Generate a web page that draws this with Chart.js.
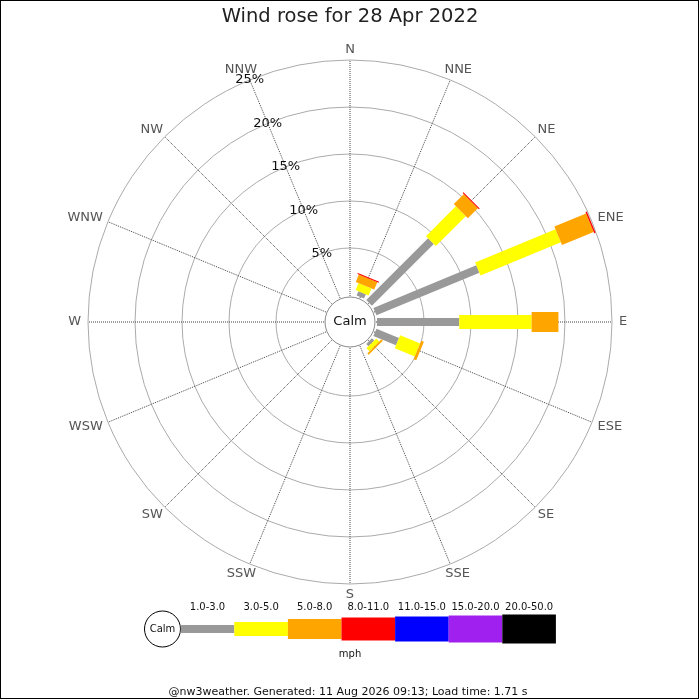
<!DOCTYPE html>
<html>
<head>
<meta charset="utf-8">
<title>Wind rose</title>
<script src="https://cdn.jsdelivr.net/npm/chart.js@4.4.1/dist/chart.umd.min.js"></script>
<style>
  html, body { margin: 0; padding: 0; background: #fff; }
  #wrap { width: 700px; height: 700px; position: relative; }
</style>
</head>
<body>
<div id="wrap"><canvas id="myChart"></canvas></div>
<script>
const directions = ["N", "NNE", "NE", "ENE", "E", "ESE", "SE", "SSE",
  "S", "SSW", "SW", "WSW", "W", "WNW", "NW", "NNW"];
const speedBins = ["1.0-3.0", "3.0-5.0", "5.0-8.0", "8.0-11.0", "11.0-15.0", "15.0-20.0", "20.0-50.0"];

// percent of the day per direction, one array per speed bin
const speed1to3 = [0, 0.5, 9.3, 11.85, 8.75, 2.6, 0.35, 0, 0, 0, 0, 0, 0, 0, 0, 0];
const speed3to5 = [0, 0.8, 4.5, 9.25, 7.7, 2.3, 0.45, 0, 0, 0, 0, 0, 0, 0, 0, 0];
const speed5to8 = [0, 0.85, 1.5, 3.65, 2.85, 0.3, 0.2, 0, 0, 0, 0, 0, 0, 0, 0, 0];
const speed8to11 = [0, 0.12, 0.12, 0.15, 0, 0, 0, 0, 0, 0, 0, 0, 0, 0, 0, 0];
const speed11to15 = [0, 0, 0, 0, 0, 0, 0, 0, 0, 0, 0, 0, 0, 0, 0, 0];
const speed15to20 = [0, 0, 0, 0, 0, 0, 0, 0, 0, 0, 0, 0, 0, 0, 0, 0];
const speed20to50 = [0, 0, 0, 0, 0, 0, 0, 0, 0, 0, 0, 0, 0, 0, 0, 0];

const ringTicks = [5, 10, 15, 20, 25];

const binColors = ["#999999", "#ffff00", "#ffa500", "#ff0000", "#0000ff", "#a020f0", "#000000"];
const binWidths = [8, 14, 20, 23, 25, 27, 29];
const FONT = "DejaVu Sans";

const series = [speed1to3, speed3to5, speed5to8, speed8to11, speed11to15, speed15to20, speed20to50];

const windRosePlugin = {
  id: "windRose",
  afterDatasetsDraw(chart) {
    const ctx = chart.ctx;
    const scale = chart.scales.r;
    ctx.save();

    // stacked bars, each bin a thick line segment along its direction
    ctx.lineCap = "butt";
    directions.forEach((dir, i) => {
      let start = 0;
      chart.data.datasets.forEach((ds, b) => {
        const v = ds.data[i];
        if (!v) return;
        const p0 = scale.getPointPositionForValue(i, start);
        const p1 = scale.getPointPositionForValue(i, start + v);
        ctx.strokeStyle = ds.barColor;
        ctx.lineWidth = ds.barWidth;
        ctx.beginPath();
        ctx.moveTo(p0.x, p0.y);
        ctx.lineTo(p1.x, p1.y);
        ctx.stroke();
        start += v;
      });
    });

    // calm circle
    const cr = scale.getDistanceFromCenterForValue(0) - 2;
    ctx.fillStyle = "#fff";
    ctx.strokeStyle = "#888";
    ctx.lineWidth = 1;
    ctx.beginPath();
    ctx.arc(scale.xCenter, scale.yCenter, cr, 0, Math.PI * 2);
    ctx.fill();
    ctx.stroke();
    ctx.fillStyle = "#111";
    ctx.font = "13px " + FONT;
    ctx.textAlign = "center";
    ctx.textBaseline = "middle";
    ctx.fillText("Calm", scale.xCenter, scale.yCenter);

    // ring labels along NNW
    ringTicks.forEach((v) => {
      const p = scale.getPointPositionForValue(15, v);
      ctx.fillText(v + "%", p.x, p.y);
    });

    // compass labels just outside the end of each spoke
    ctx.fillStyle = "#555";
    chart.data.labels.forEach((label, i) => {
      const a = scale.getIndexAngle(i);
      const w = ctx.measureText(label).width;
      const end = scale.getPointPosition(i, scale.drawingArea);
      ctx.fillText(label, end.x + Math.sin(a) * (7 + w / 2), end.y - Math.cos(a) * 10.75);
    });
    ctx.restore();
  },
  afterDraw(chart) {
    const ctx = chart.ctx;
    ctx.save();
    ctx.textAlign = "center";
    ctx.textBaseline = "middle";

    // speed legend
    const ly = 629;
    ctx.strokeStyle = "#000";
    ctx.lineWidth = 1;
    ctx.beginPath();
    ctx.arc(162.5, ly, 18, 0, Math.PI * 2);
    ctx.stroke();
    ctx.fillStyle = "#111";
    ctx.font = "10px " + FONT;
    ctx.fillText("Calm", 162.5, ly);

    const segW = 53.6;
    let x = 180.7;
    speedBins.forEach((label, b) => {
      const h = binWidths[b];
      ctx.fillStyle = binColors[b];
      ctx.fillRect(x, ly - h / 2, segW, h);
      ctx.fillStyle = "#111";
      ctx.fillText(label, x + segW / 2, 607);
      x += segW;
    });
    ctx.fillText("mph", 350, 654);

    ctx.font = "11px " + FONT;
    ctx.fillText("@nw3weather. Generated: 11 Aug 2026 09:13; Load time: 1.71 s", 348, 692);

    // frame
    ctx.strokeStyle = "#000";
    ctx.strokeRect(0.5, 0.5, 698, 698);
    ctx.restore();
  }
};

const ctx = document.getElementById("myChart").getContext("2d");
new Chart(ctx, {
  type: "radar",
  data: {
    labels: directions,
    datasets: series.map((data, b) => ({
      label: speedBins[b],
      data: data,
      barColor: binColors[b],
      barWidth: binWidths[b],
      showLine: false,
      pointRadius: 0,
      borderWidth: 0,
      backgroundColor: "rgba(0,0,0,0)",
    })),
  },
  options: {
    responsive: true,
    maintainAspectRatio: false,
    animation: false,
    events: [],
    layout: { padding: { bottom: 116 } },
    plugins: {
      legend: { display: false },
      tooltip: { enabled: false },
      title: {
        display: true,
        text: "Wind rose for 28 Apr 2022",
        color: "#222",
        font: { family: FONT, size: 19.5, weight: "normal" },
        padding: { top: 5, bottom: 31.6 },
      },
    },
    scales: {
      r: {
        min: -2.87,
        max: 25,
        afterBuildTicks: (scale) => {
          scale.ticks = ringTicks.map((v) => ({ value: v }));
        },
        ticks: { display: false },
        grid: { circular: true, color: "#aaa", lineWidth: 1 },
        angleLines: { color: "#444", lineWidth: 1, borderDash: [1, 1] },
        pointLabels: { display: false },
      },
    },
  },
  plugins: [windRosePlugin],
});
</script>
</body>
</html>
